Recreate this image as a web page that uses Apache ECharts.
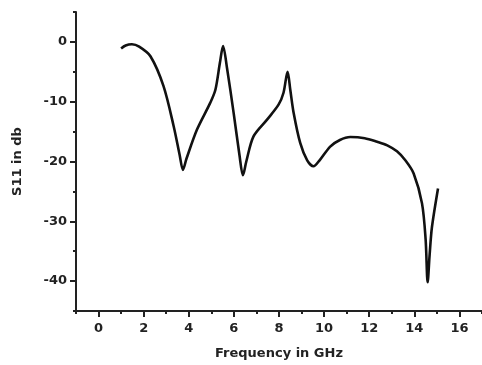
<!DOCTYPE html>
<html><head><meta charset="utf-8">
<script src="https://cdn.jsdelivr.net/npm/echarts@6/dist/echarts.min.js"></script>
<style>html,body{margin:0;padding:0;background:#fff}#c{width:482px;height:365px}</style>
</head><body><div id="c"></div>
<script>
const freq = [1.0, 1.2, 1.48, 1.8, 2.3, 2.88, 3.33, 3.6, 3.74, 3.9, 4.36, 4.95, 5.18, 5.38, 5.52, 5.7, 5.99, 6.25, 6.40, 6.55, 6.87, 7.47, 7.98, 8.2, 8.38, 8.5, 8.65, 8.94, 9.25, 9.53, 9.8, 10.27, 10.7, 11.16, 11.8, 12.35, 12.8, 13.23, 13.6, 13.97, 14.34, 14.5, 14.59, 14.68, 14.78, 15.05];
const s11  = [-1.1, -0.6, -0.4, -0.8, -2.4, -7.4, -14.1, -19.0, -21.4, -19.5, -14.7, -10.2, -8.0, -3.5, -0.7, -4.5, -11.9, -19.0, -22.3, -20.0, -15.8, -13.0, -10.5, -8.5, -5.0, -8.0, -11.9, -16.9, -19.8, -20.8, -19.8, -17.5, -16.4, -15.9, -16.1, -16.7, -17.3, -18.3, -19.8, -22.0, -27.0, -33.0, -40.2, -35.5, -31.0, -24.5];
const xTicks = [0, 2, 4, 6, 8, 10, 12, 14, 16];
const xMinor = [-1, 1, 3, 5, 7, 9, 11, 13, 15, 17];
const yTicks = [-40, -30, -20, -10, 0];
const yMinor = [-45, -35, -25, -15, -5, 5];

const font = {fontFamily: '"DejaVu Sans", sans-serif', fontWeight: 'bold', fontSize: 13, color: '#222'};
const axisLine = {show: true, onZero: false, lineStyle: {color: '#222', width: 2}};
const chart = echarts.init(document.getElementById('c'));
chart.setOption({
  animation: false,
  grid: {left: 76, right: 0, top: 12, bottom: 54, containLabel: false},
  xAxis: [{
    type: 'value', min: -1, max: 17,
    name: 'Frequency in GHz', nameLocation: 'middle', nameGap: 36,
    nameTextStyle: Object.assign({}, font),
    axisLine: axisLine,
    axisTick: {show: true, inside: false, length: 6, customValues: xTicks, lineStyle: {color: '#222', width: 2}},
    axisLabel: Object.assign({customValues: xTicks, margin: 11}, font),
    splitLine: {show: false}
  }, {
    type: 'value', min: -1, max: 17, position: 'bottom',
    axisLine: {show: false, onZero: false},
    axisTick: {show: true, length: 3, customValues: xMinor, lineStyle: {color: '#222', width: 2}},
    axisLabel: {show: false}, splitLine: {show: false}
  }],
  yAxis: [{
    type: 'value', min: -45, max: 5,
    name: 'S11 in db', nameLocation: 'middle', nameGap: 52, nameRotate: 90,
    nameTextStyle: Object.assign({}, font),
    axisLine: axisLine,
    axisTick: {show: true, length: 6, customValues: yTicks, lineStyle: {color: '#222', width: 2}},
    axisLabel: Object.assign({customValues: yTicks, margin: 9}, font),
    splitLine: {show: false}
  }, {
    type: 'value', min: -45, max: 5, position: 'left',
    axisLine: {show: false, onZero: false},
    axisTick: {show: true, length: 3, customValues: yMinor, lineStyle: {color: '#222', width: 2}},
    axisLabel: {show: false}, splitLine: {show: false}
  }],
  series: [{
    type: 'line', xAxisIndex: 0, yAxisIndex: 0,
    data: freq.map((f, i) => [f, s11[i]]),
    smooth: 0.3, showSymbol: false,
    lineStyle: {color: '#111', width: 2.6}
  }]
});
</script></body></html>
